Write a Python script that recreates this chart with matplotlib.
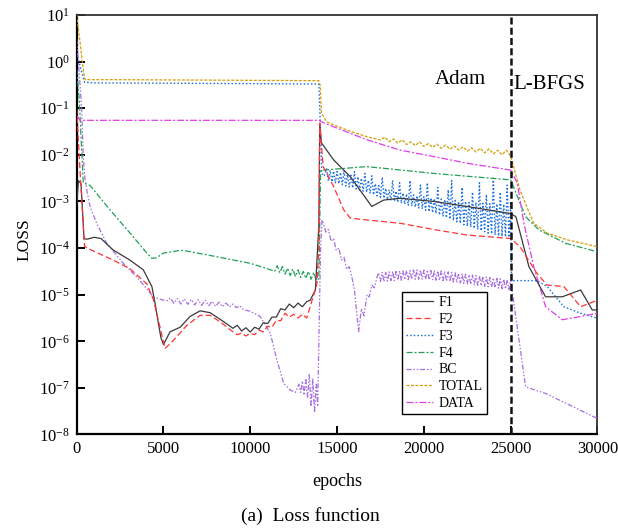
import numpy as np
import matplotlib
matplotlib.use("Agg")
import matplotlib.pyplot as plt
from matplotlib.ticker import NullLocator, FixedLocator

plt.rcParams['font.family'] = ['Liberation Serif', 'DejaVu Serif']
plt.rcParams['mathtext.fontset'] = 'stix'

# ---- data (epoch, loss) ----
f1_ep = [0, 100, 250, 420, 600, 1000, 1400, 2100, 3070, 3840, 4330, 4515, 4700, 4850, 5000, 5380, 5960,
         6530, 7110, 7690, 8270, 8840,
         9000, 9250, 9500, 9750, 10000, 10250, 10500, 10750, 11000, 11250, 11500, 11750, 12000, 12250,
         12500, 12750, 13000, 13250, 13450, 13750, 13840, 13950, 14000, 14100, 14800, 15760, 17000, 17680,
         18640, 20560, 22490, 25000, 25300, 26050, 27010, 27970, 29030, 29700, 30000]
f1_val = [8e-4, 2.8e-3, 2.4e-3, 1.6e-4, 1.55e-4, 1.7e-4, 1.6e-4, 9.1e-5, 5.5e-5, 3.4e-5, 1.5e-5, 6.5e-6, 2.5e-6, 1.2e-6, 8.5e-7, 1.6e-6, 2.0e-6,
          3.4e-6, 4.5e-6, 4.1e-6, 2.95e-6, 2.1e-6,
          1.9e-6, 2.2e-6, 1.66e-6, 1.95e-6, 1.58e-6, 2.0e-6, 1.82e-6, 2.5e-6, 2.4e-6, 3.3e-6, 3.3e-6, 5e-6, 4.7e-6, 6.3e-6,
          5.25e-6, 6.6e-6, 5.5e-6, 7.1e-6, 7.6e-6, 1.26e-5, 5.5e-5, 3e-4, 4.5e-2, 1.8e-2, 7.8e-3, 3.4e-3, 7.8e-4, 1.07e-3,
          1.17e-3, 1.0e-3, 7.8e-4, 5.5e-4, 4.7e-4, 4e-5, 9e-6, 9e-6, 1.26e-5, 4.7e-6, 4.7e-6]

f2_ep = [0, 100, 200, 300, 450, 600, 2110, 3070, 4040, 4420, 4800, 5090, 5400, 5770, 6340, 7110, 7690, 8270,
         9000, 9250, 9500, 9750, 10000, 10250, 10500, 10750, 11000, 11250, 11500, 11750, 12000, 12250,
         12500, 12750, 13000, 13250, 13450, 13840, 13950, 14000, 14200, 14800, 15380, 15760, 16720, 18640,
         20560, 22490, 25000, 25540, 26500, 27100, 28060, 29030, 30000]
f2_val = [0.1, 0.02, 4e-3, 1e-3, 1.1e-4, 1e-4, 5.5e-5, 3.6e-5, 1.7e-5, 7.8e-6, 2e-6, 7e-7, 9e-7, 1.26e-6, 2.2e-6, 3.6e-6, 3.6e-6, 2.6e-6,
          1.6e-6, 1.38e-6, 1.5e-6, 1.3e-6, 1.48e-6, 1.38e-6, 1.74e-6, 1.58e-6, 2.1e-6, 2.0e-6, 2.8e-6, 2.75e-6, 4e-6, 3.3e-6,
          3.8e-6, 3.16e-6, 3.8e-6, 3.16e-6, 5.5e-6, 1.7e-5, 1e-4, 4.8e-2, 5.6e-3, 2.1e-3, 6.6e-4, 4.4e-4, 4e-4, 3.4e-4,
          2.5e-4, 1.9e-4, 1.6e-4, 1.07e-4, 2.9e-5, 1.6e-5, 1.5e-5, 5.5e-6, 7.6e-6]

f3_ep = [0, 200, 450, 1000, 8000, 13950, 14030, 14120, 14250]
f3_val = [1.5, 0.8, 0.36, 0.35, 0.34, 0.33, 0.05, 4e-3, 3.5e-3]
# noisy Adam band: tops of the strokes (every 200 epochs) and bottoms (in between)
f3_hi_ep = list(range(14400, 25001, 200))
f3_hi = [5.01e-3, 4.68e-3, 4.47e-3, 4.37e-3, 4.17e-3, 4.57e-3, 3.80e-3, 3.63e-3, 4.37e-3, 3.39e-3,
         3.16e-3, 3.98e-3, 2.82e-3, 3.55e-3, 2.40e-3, 2.19e-3, 3.31e-3, 1.91e-3, 1.78e-3, 2.82e-3,
         1.66e-3, 2.51e-3, 1.51e-3, 1.45e-3, 2.82e-3, 1.38e-3, 1.32e-3, 2.24e-3, 1.26e-3, 2.51e-3,
         1.20e-3, 1.15e-3, 2.0e-3, 1.12e-3, 1.10e-3, 1.78e-3, 2.82e-3, 1.05e-3, 1.0e-3, 2.0e-3,
         1.0e-3, 9.55e-4, 1.58e-3, 9.55e-4, 2.51e-3, 9.12e-4, 1.41e-3, 8.91e-4, 3.16e-3, 8.91e-4,
         1.58e-3, 8.71e-4, 2.24e-3, 1.0e-3]
f3_lo_ep = list(range(14500, 24901, 200))
f3_lo = [2.75e-3, 2.63e-3, 2.51e-3, 2.40e-3, 2.29e-3, 2.14e-3, 2.04e-3, 1.95e-3, 1.86e-3, 1.74e-3,
         1.66e-3, 1.58e-3, 1.48e-3, 1.38e-3, 1.32e-3, 1.23e-3, 1.17e-3, 1.10e-3, 1.05e-3, 1.0e-3,
         9.55e-4, 9.12e-4, 8.71e-4, 8.32e-4, 7.94e-4, 7.59e-4, 7.24e-4, 6.92e-4, 6.46e-4, 6.03e-4,
         5.75e-4, 5.50e-4, 5.13e-4, 4.79e-4, 4.47e-4, 4.17e-4, 3.89e-4, 3.63e-4, 3.39e-4, 3.16e-4,
         2.95e-4, 2.82e-4, 2.63e-4, 2.51e-4, 2.34e-4, 2.24e-4, 2.09e-4, 2.0e-4, 1.91e-4, 1.82e-4,
         1.78e-4, 1.74e-4, 1.70e-4]
f3_tail_ep = [25020, 25050, 26500, 27100, 28060, 29030, 30000]
f3_tail_val = [1.7e-4, 2e-5, 2e-5, 1.5e-5, 5.5e-6, 4e-6, 3.1e-6]

f4_ep = [0, 150, 300, 380, 770, 1920, 3070, 4040, 4330, 4600, 5000, 5770, 6150, 8080, 10000, 11000,
         11400, 11550, 11700, 11850, 12000, 12150, 12300, 12450, 12600, 12750, 12900, 13050, 13200,
         13350, 13500, 13650, 13800, 13950, 14050, 14200, 16700, 20550, 25000, 25860, 26630, 28170, 30000]
f4_val = [0.7, 0.15, 0.01, 2.5e-3, 2.2e-3, 6.6e-4, 2.1e-4, 7.8e-5, 6e-5, 6.2e-5, 7.8e-5, 8.7e-5, 8.9e-5, 6.5e-5, 4.7e-5, 3.6e-5,
          3.16e-5, 4.2e-5, 2.95e-5, 4e-5, 2.75e-5, 3.7e-5, 2.57e-5, 3.55e-5, 2.45e-5, 3.4e-5, 2.34e-5, 3.16e-5, 2.24e-5,
          3.16e-5, 2.14e-5, 3e-5, 2.04e-5, 2.2e-5, 4.5e-3, 4.7e-3, 5.6e-3, 4e-3, 2.9e-3, 4.7e-4, 2.45e-4, 1.26e-4, 8.3e-5]

bc_ep = [0, 100, 290, 380, 480, 600, 770, 1150, 1730, 2690, 3650, 4420, 5000, 5200,
         5400, 5600, 5800, 6000, 6200, 6400, 6600, 6800, 7000, 7200, 7400, 7600, 7800, 8000, 8200,
         8400, 8600, 8800, 9000, 9200, 9400, 9600, 10000, 10570, 11150, 11530, 11920, 12300, 12600,
         12800, 12900, 13000, 13100, 13200, 13300, 13400, 13500, 13600, 13700, 13800, 13880, 13950,
         14050, 14130, 14200, 14350, 14500, 14650, 14800, 14950, 15100, 15250, 15400, 15550, 15700,
         15850, 16000, 16240, 16400, 16550, 16720, 16850, 17000, 17150, 17300]
bc_val = [3.0, 1.0, 0.09, 9e-3, 3e-3, 1.6e-3, 7.8e-4, 3.4e-4, 1.26e-4, 4.7e-5, 2e-5, 8.9e-6, 7.6e-6, 7.4e-6,
          8.5e-6, 6.5e-6, 8.3e-6, 6.3e-6, 8.1e-6, 6.2e-6, 7.9e-6, 6e-6, 7.8e-6, 5.9e-6, 7.6e-6, 5.75e-6, 7.2e-6, 5.6e-6, 6.9e-6,
          5.5e-6, 6.6e-6, 5.4e-6, 6.3e-6, 5.25e-6, 5.75e-6, 4.8e-6, 4.4e-6, 3.4e-6, 1.5e-6, 4e-7, 1.26e-7, 9e-8, 8e-8,
          1.2e-7, 8e-8, 1.4e-7, 7e-8, 1.6e-7, 6e-8, 1.9e-7, 4e-8, 1.6e-7, 3e-8, 1.2e-7, 4e-8, 1e-6,
          1e-4, 4e-4, 3.5e-4, 2.2e-4, 2.5e-4, 1.4e-4, 1.6e-4, 8.9e-5, 1e-4, 5.6e-5, 6.3e-5, 3.5e-5, 4e-5,
          2.4e-5, 1.26e-5, 1.6e-6, 5e-6, 3.5e-6, 1e-5, 8.9e-6, 1.6e-5, 1.4e-5, 2.4e-5]
# noisy BC plateau: stroke tops and bottoms
bc_hi_ep = list(range(17400, 25001, 200))
bc_hi = [2.95e-5, 3.02e-5, 3.02e-5, 3.09e-5, 3.16e-5, 3.16e-5, 3.24e-5, 3.24e-5, 3.31e-5, 3.31e-5,
         3.39e-5, 3.39e-5, 3.39e-5, 3.39e-5, 3.39e-5, 3.31e-5, 3.31e-5, 3.24e-5, 3.24e-5, 3.16e-5,
         3.09e-5, 3.02e-5, 2.95e-5, 2.88e-5, 2.82e-5, 2.75e-5, 2.69e-5, 2.63e-5, 2.57e-5, 2.51e-5,
         2.45e-5, 2.40e-5, 2.34e-5, 2.29e-5, 2.24e-5, 2.19e-5, 2.14e-5, 2.09e-5, 2.0e-5]
bc_lo_ep = list(range(17500, 24901, 200))
bc_lo = [1.91e-5, 1.91e-5, 1.95e-5, 2.0e-5, 2.0e-5, 2.04e-5, 2.04e-5, 2.09e-5, 2.09e-5, 2.14e-5,
         2.14e-5, 2.14e-5, 2.14e-5, 2.14e-5, 2.09e-5, 2.09e-5, 2.04e-5, 2.04e-5, 2.0e-5, 1.95e-5,
         1.91e-5, 1.86e-5, 1.82e-5, 1.78e-5, 1.74e-5, 1.70e-5, 1.66e-5, 1.62e-5, 1.58e-5, 1.55e-5,
         1.51e-5, 1.48e-5, 1.45e-5, 1.41e-5, 1.38e-5, 1.35e-5, 1.32e-5, 1.29e-5]
bc_tail_ep = [25860, 27010, 28170, 30000]
bc_tail_val = [1.05e-7, 7.6e-8, 4.7e-8, 2.2e-8]

total_ep = [0, 200, 380, 480, 2000, 8000, 13950, 14030, 14100, 14400, 14800, 15760, 16720,
            17500, 17750, 18000, 18250, 18500, 18750, 19000, 19250, 19500, 19750, 20000, 20250, 20500,
            20750, 21000, 21250, 21500, 21750, 22000, 22250, 22500, 22750, 23000, 23250, 23500, 23750,
            24000, 24250, 24500, 24750, 25000, 25540, 26000, 26330, 27100, 28260, 30000]
total_val = [10, 2.5, 0.66, 0.41, 0.41, 0.40, 0.39, 0.3, 0.078, 0.051, 0.044, 0.032, 0.0245,
             2.09e-2, 2.4e-2, 1.91e-2, 2.2e-2, 1.78e-2, 2.1e-2, 1.66e-2, 1.9e-2, 1.58e-2, 1.9e-2, 1.51e-2, 1.74e-2, 1.45e-2,
             1.7e-2, 1.38e-2, 1.62e-2, 1.32e-2, 1.55e-2, 1.26e-2, 1.48e-2, 1.2e-2, 1.41e-2, 1.15e-2, 1.38e-2, 1.1e-2, 1.35e-2,
             1.05e-2, 1.26e-2, 1.0e-2, 1.26e-2, 9.3e-3, 1.74e-3, 6.6e-4, 3.4e-4, 2.1e-4, 1.5e-4, 1.07e-4]

data_ep = [0, 200, 13950, 14100, 14800, 15760, 16720, 18640, 20560, 22490, 25000, 25380, 25760,
           26330, 27010, 27970, 29030, 30000]
data_val = [0.07, 0.055, 0.055, 0.051, 0.040, 0.029, 0.021, 0.0126, 0.0092, 0.0066, 0.0047, 2.5e-3, 3.4e-4,
            4e-5, 5.5e-6, 2.9e-6, 3.4e-6, 4e-6]

y_ticks = [1e-8, 1e-7, 1e-6, 1e-5, 1e-4, 1e-3, 1e-2, 1e-1, 1e0, 1e1]
x_ticks = [0, 5000, 10000, 15000, 20000, 25000, 30000]


def joined(head_ep, head_val, hi_ep, hi, lo_ep, lo, tail_ep, tail_val):
    # lead-in points, then band strokes in epoch order, then the tail
    band = sorted(zip(hi_ep + lo_ep, hi + lo))
    return (head_ep + [b[0] for b in band] + tail_ep,
            head_val + [b[1] for b in band] + tail_val)


f3_all_ep, f3_all_val = joined(f3_ep, f3_val, f3_hi_ep, f3_hi, f3_lo_ep, f3_lo, f3_tail_ep, f3_tail_val)
bc_all_ep, bc_all_val = joined(bc_ep, bc_val, bc_hi_ep, bc_hi, bc_lo_ep, bc_lo, bc_tail_ep, bc_tail_val)

fig = plt.figure(figsize=(6.18, 5.30), dpi=100)
ax = fig.add_axes([0.1241, 0.1802, 0.8427, 0.7915])

lw = 0.9
ax.plot(f1_ep, f1_val, color='#3a3a3a', lw=lw, ls='-', label='F1', zorder=4)
ax.plot(f2_ep, f2_val, color='#ff3333', lw=lw, ls=(0, (4.8, 2.4)), label='F2', zorder=4)
ax.plot(f3_all_ep, f3_all_val, color='#1c6fe0', lw=1.0, ls=(0, (1.1, 1.5)), label='F3', zorder=2)
ax.plot(f4_ep, f4_val, color='#22a05a', lw=lw, ls=(0, (4.8, 1.6, 1.6, 1.6)), label='F4', zorder=3)
ax.plot(bc_all_ep, bc_all_val, color='#a66ee0', lw=lw, ls=(0, (4, 1.5, 1.2, 1.5, 1.2, 1.5)),
        label='BC', zorder=3)
ax.plot(total_ep, total_val, color='#d4a00a', lw=lw, ls=(0, (2.4, 1.2)), label='TOTAL', zorder=3)
ax.plot(data_ep, data_val, color='#e23ce8', lw=lw, ls=(0, (5.5, 1.6, 1.6, 1.6)), label='DATA', zorder=3)

ax.axvline(25000, color='#111111', lw=1.8, ls=(0, (2.8, 1.3)), zorder=5)

ax.set_yscale('log')
ax.set_xlim(0, 30000)
ax.set_ylim(1e-8, 1e1)
ax.yaxis.set_major_locator(FixedLocator(y_ticks))
ax.yaxis.set_minor_locator(NullLocator())
ax.set_xticks(x_ticks)
ax.tick_params(axis='both', direction='in', length=6, width=1.4, labelsize=12,
               top=False, right=False, pad=5)

for side in ['left', 'bottom']:
    ax.spines[side].set_linewidth(1.6)
    ax.spines[side].set_color('black')
for side in ['top', 'right']:
    ax.spines[side].set_linewidth(1.3)
    ax.spines[side].set_color('#333333')

ax.set_ylabel('LOSS', fontsize=12.5)
ax.yaxis.set_label_coords(-0.084, 0.464)
ax.set_xlabel('epochs', fontsize=13)
ax.xaxis.set_label_coords(0.5, -0.092)

ax.text(22100, 0.41, 'Adam', fontsize=15, ha='center', va='center')
ax.text(27240, 0.33, 'L-BFGS', fontsize=15, ha='center', va='center')

leg = ax.legend(loc='lower left', bbox_to_anchor=(0.625, 0.048), borderaxespad=0,
                fontsize=10, handlelength=1.9, handletextpad=0.45, labelspacing=0.28,
                borderpad=0.3, fancybox=False, framealpha=1, edgecolor='black')
leg.get_frame().set_linewidth(1.0)

fig.text(0.502, 0.026, '(a)  Loss function', fontsize=14, ha='center', va='center')

fig.savefig('out.png', dpi=100)
